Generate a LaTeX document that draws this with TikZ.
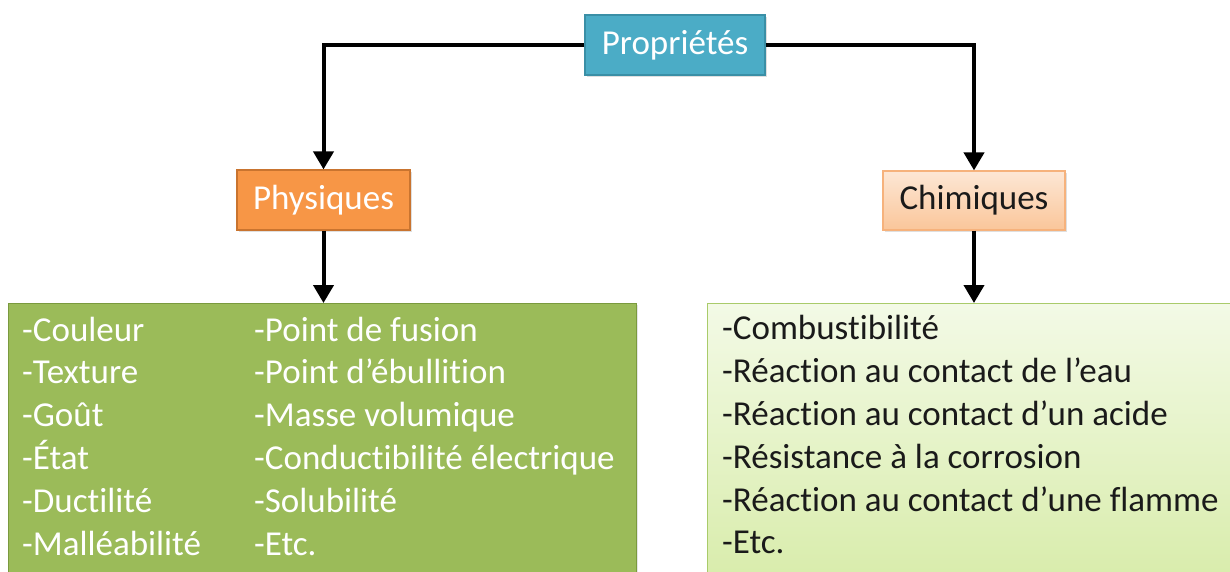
\documentclass[tikz,border=0pt]{standalone}
\usepackage{fontspec}
\setmainfont{Carlito}[Ligatures={NoCommon,NoRare,NoDiscretionary}]
\usetikzlibrary{arrows.meta,shadows}
\definecolor{propfill}{HTML}{4BACC6}
\definecolor{propdraw}{HTML}{3A8FA6}
\definecolor{physfill}{HTML}{F79646}
\definecolor{physdraw}{HTML}{C9742F}
\definecolor{chimtop}{HTML}{FDE7D5}
\definecolor{chimbot}{HTML}{FAC69A}
\definecolor{chimdraw}{HTML}{F6B27C}
\definecolor{greenfill}{HTML}{9BBB59}
\definecolor{greendraw}{HTML}{7A9A3E}
\definecolor{lgtop}{HTML}{F3FAE6}
\definecolor{lgbot}{HTML}{D6EBA6}
\definecolor{lgdraw}{HTML}{A9CB6A}
\definecolor{darktext}{HTML}{1A1A1A}
\tikzset{
  bigfont/.style={font=\fontsize{35}{42}\selectfont},
  titlebox/.style={rectangle, line width=1.2pt, inner sep=0pt, bigfont,
    drop shadow={opacity=0.25, shadow xshift=1.5pt, shadow yshift=-1.5pt}},
  listbox/.style={rectangle, line width=1.2pt, inner sep=0pt, anchor=north west,
    drop shadow={opacity=0.2, shadow xshift=1.5pt, shadow yshift=-1.5pt}},
  listtext/.style={anchor=base west, inner sep=0pt, bigfont},
  conn/.style={line width=4pt, -{Triangle[width=20pt,length=18pt]}},
}
\begin{document}
\begin{tikzpicture}[x=1pt,y=-1pt]
\useasboundingbox[fill=white] (0,0) rectangle (1230,571);

\node[titlebox, fill=propfill, draw=propdraw, text=white,
      minimum width=180pt, minimum height=60pt] (prop) at (675,45) {Propriétés};
\node[titlebox, fill=physfill, draw=physdraw, text=white,
      minimum width=173pt, minimum height=60pt] (phys) at (323.5,200) {Physiques};
\node[titlebox, top color=chimtop, bottom color=chimbot, draw=chimdraw, text=darktext,
      minimum width=182pt, minimum height=59pt] (chim) at (974,200.5) {Chimiques};

\node[listbox, fill=greenfill, draw=greendraw,
      minimum width=628pt, minimum height=300pt] (physlist) at (8,303) {};
\node[listbox, top color=lgtop, bottom color=lgbot, draw=lgdraw,
      minimum width=540pt, minimum height=300pt] (chimlist) at (707,303) {};

\draw[conn] (prop.west) -| (phys.north);
\draw[conn] (prop.east) -| (chim.north);
\draw[conn] (phys.south) -- (phys.south |- physlist.north);
\draw[conn] (chim.south) -- (chim.south |- chimlist.north);

\foreach \txt [count=\i] in {-Couleur,-Texture,-Goût,-État,-Ductilité,-Malléabilité}
  \node[listtext, text=white] (pa\i) at (22,298.2+42.8*\i) {\txt};
\foreach \txt [count=\i] in {-Point de fusion,-Point d’ébullition,-Masse volumique,-Conductibilité électrique,-Solubilité,-Etc.}
  \node[listtext, text=white] (pb\i) at (254,298.2+42.8*\i) {\txt};
\foreach \txt [count=\i] in {-Combustibilité,-Réaction au contact de l’eau,-Réaction au contact d’un acide,-Résistance à la corrosion,-Réaction au contact d’une flamme,-Etc.}
  \node[listtext, text=darktext] (c\i) at (722,297+42.8*\i) {\txt};
\end{tikzpicture}
\end{document}
